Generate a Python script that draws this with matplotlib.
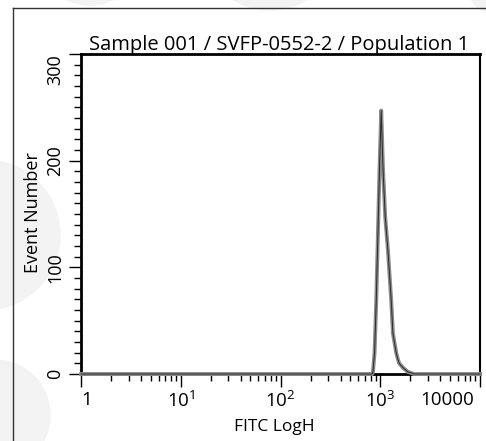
import matplotlib
matplotlib.use('Agg')
import matplotlib.pyplot as plt
import matplotlib.transforms as mtransforms
from matplotlib.ticker import LogLocator, MultipleLocator, NullFormatter
from matplotlib.patches import Ellipse
from matplotlib.lines import Line2D

plt.rcParams['font.family'] = ['Open Sans', 'DejaVu Sans']
plt.rcParams['mathtext.fontset'] = 'custom'
plt.rcParams['mathtext.rm'] = 'Open Sans'
plt.rcParams['mathtext.it'] = 'Open Sans'
plt.rcParams['mathtext.default'] = 'regular'

# histogram (FITC LogH channel vs event count)
title = 'Sample 001 / SVFP-0552-2 / Population 1'
fitc = [1, 830, 845, 877, 912, 948, 984, 1023, 1064, 1122, 1194, 1288,
        1340, 1445, 1500, 1549, 1687, 1892, 2188, 10000]
counts = [0, 0, 2, 20, 69, 132, 194, 247, 194, 147, 116, 69,
          38, 20, 14, 10, 6, 2, 0, 0]
xticks = [1, 10, 100, 1000, 10000]
xticklabels = ['1', '$10^{1}$', '$10^{2}$', '$10^{3}$', '10000']
yticks = [0, 100, 200, 300]

W, H = 486, 441
fig = plt.figure(figsize=(W / 100, H / 100), dpi=100)

# faint watermark blobs behind everything
for cx, cy, r in [(-15, 235, 75), (-5, 415, 55), (270, -60, 70), (90, -50, 55), (500, -20, 35)]:
    fig.add_artist(Ellipse((cx / W, 1 - cy / H), 2 * r / W, 2 * r / H,
                           transform=fig.transFigure, color='#f3f3f3', zorder=0))

# outer frame lines
fig.add_artist(Line2D([12.5 / W, 12.5 / W], [0, 1 - 7.5 / H], color='#333333', lw=1.0))
fig.add_artist(Line2D([12.5 / W, 1], [1 - 7.5 / H, 1 - 7.5 / H], color='#333333', lw=1.0))

ax = fig.add_axes([81 / W, 1 - 374 / H, (480 - 81) / W, (374 - 54) / H])
ax.set_facecolor('white')
ax.plot(fitc, counts, color='#8c8c8c', lw=2.8, solid_joinstyle='round', clip_on=False, zorder=3)
ax.plot(fitc, counts, color='#2a2a2a', lw=0.7, solid_joinstyle='round', clip_on=False, zorder=4)

ax.set_xscale('log')
ax.set_xlim(1, 10000)
ax.set_ylim(0, 300)

ax.set_xticks(xticks)
ax.set_xticklabels(xticklabels)
ax.xaxis.set_minor_locator(LogLocator(base=10, subs=range(2, 10)))
ax.xaxis.set_minor_formatter(NullFormatter())
ax.set_yticks(yticks)
ax.yaxis.set_minor_locator(MultipleLocator(10))

ax.tick_params(which='major', direction='out', length=9, width=1.0, labelsize=13.5, color='black')
ax.tick_params(which='minor', direction='out', length=5, width=1.0, color='black')
ax.tick_params(axis='x', pad=3)
ax.tick_params(axis='y', pad=3, labelsize=13)
ylabs = ax.get_yticklabels()
for lab in ylabs:
    lab.set_rotation(90)
    lab.set_va('center')
ylabs[-1].set_va('top')
xl = ax.get_xticklabels()
xl[0].set_ha('left')
xl[-1].set_ha('right')
xl[-1].set_transform(xl[-1].get_transform() +
                     mtransforms.ScaledTranslation(-6 / 100, 0, fig.dpi_scale_trans))

for side in ['left', 'bottom', 'top']:
    ax.spines[side].set_linewidth(2.0)
ax.spines['right'].set_linewidth(1.5)

fig.text(279 / W, 1 - 45 / H, title, ha='center', va='center', fontsize=14.5)
fig.text(33 / W, 1 - 213 / H, 'Event Number', ha='center', va='center', rotation=90, fontsize=13)
fig.text(274 / W, 1 - 427 / H, 'FITC LogH', ha='center', va='center', fontsize=12.5)

fig.savefig('out.png', dpi=100)
